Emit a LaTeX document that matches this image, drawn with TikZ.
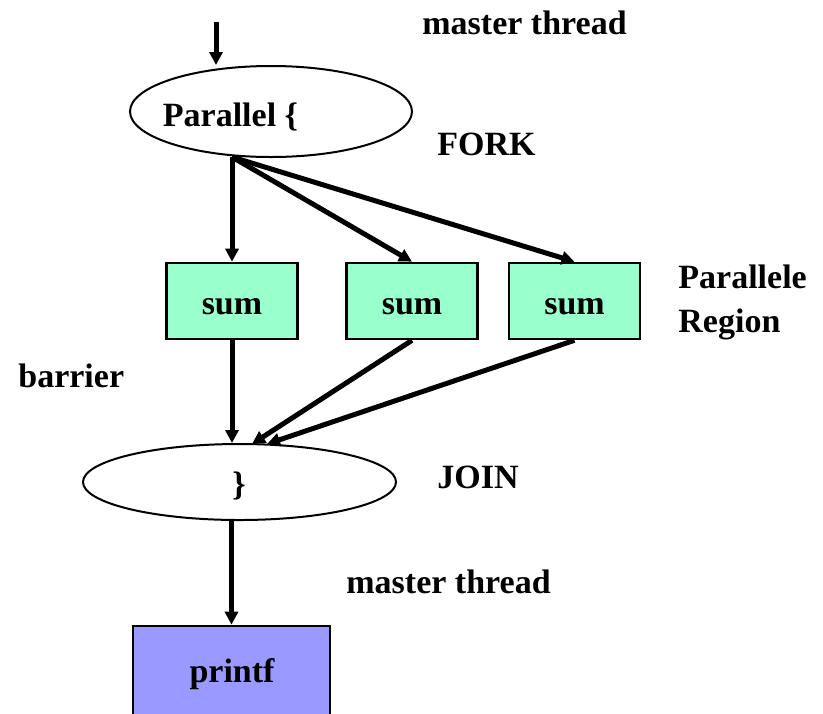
\documentclass[tikz,border=0pt]{standalone}
\usepackage{fontspec}
\setmainfont{Liberation Serif}
\usetikzlibrary{arrows.meta,shapes.geometric}
\definecolor{sumgreen}{HTML}{99FFCC}
\definecolor{printblue}{HTML}{9999FF}
\begin{document}
\begin{tikzpicture}[x=0.5pt,y=-0.5pt,
  lbl/.style={font=\fontsize{17}{20}\selectfont\bfseries, inner sep=0, anchor=base west},
  flow/.style={line width=2.5pt, -{Triangle[length=6.5pt,width=6.5pt]}},
  oval/.style={ellipse, draw, line width=1pt, inner sep=0},
  task/.style={rectangle, draw, line width=1.3pt, fill=sumgreen,
    minimum width=65.5pt, minimum height=38pt, inner sep=0,
    font=\fontsize{17}{20}\selectfont\bfseries, text height=13pt, text depth=0pt},
]
\clip (0,0) rectangle (823,713);

% fork / join ovals
\node[oval, minimum width=141pt, minimum height=45.5pt] (p1) at (271,111.5) {};
\node[lbl, anchor=base] (p1txt) at (230.5,126) {Parallel \{};

% worker tasks
\node[task] (s1) at (232,301) {sum};
\node[task] (s2) at (412,301) {sum};
\node[task] (s3) at (574.5,301) {sum};

\node[oval, minimum width=156.5pt, minimum height=38pt] (e2) at (239.5,482) {};
\node[lbl, anchor=base] (e2txt) at (239,495) {\}};

% sequential part after the join
\node[rectangle, draw, line width=1.3pt, fill=printblue, minimum width=98.5pt,
  minimum height=55pt, inner sep=0] (pr) at (231.5,681) {};
\node[lbl, anchor=base] (prtxt) at (232,682) {printf};

% connector end points
\coordinate (in) at (216,22);
\coordinate (fork) at (232,157);
\coordinate (j2) at (252,444);
\coordinate (j3) at (267,444);

\draw[flow] (in) -- (in |- p1.north);
\draw[flow] (fork) -- (s1.north);
\draw[flow] (fork) -- (s2.north);
\draw[flow] (fork) -- (s3.north);
\draw[flow] (s1.south) -- (s1.south |- e2.north);
\draw[flow] (s2.south) -- (j2);
\draw[flow] (s3.south) -- (j3);
\draw[flow] (pr.north |- e2.south) -- (pr.north);

% annotations
\node[lbl] (mt1) at (422,34) {master thread};
\node[lbl] (fk) at (437,155) {FORK};
\node[lbl] (pr1) at (678,288) {Parallele};
\node[lbl] (pr2) at (678,332) {Region};
\node[lbl] (bar) at (18,387) {barrier};
\node[lbl] (jn) at (437,488) {JOIN};
\node[lbl] (mt2) at (346,593) {master thread};
\end{tikzpicture}
\end{document}
